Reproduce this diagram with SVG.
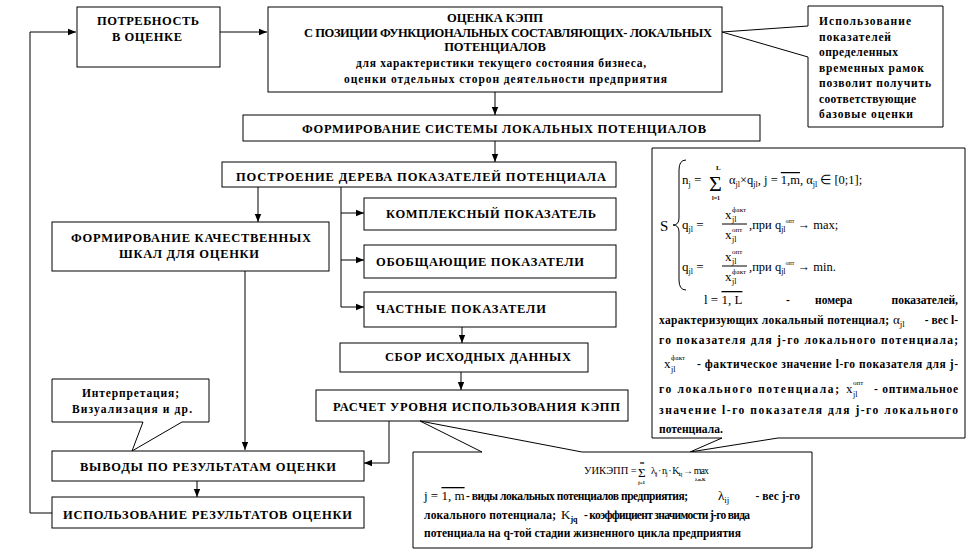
<svg xmlns="http://www.w3.org/2000/svg" width="968" height="552" viewBox="0 0 968 552" font-family="Liberation Serif, Times New Roman, serif">
<defs>
<style>
.box{fill:#fff;stroke:#000;stroke-width:1}
.ln{fill:none;stroke:#000;stroke-width:1}
.t{font-weight:bold;font-size:12.5px;fill:#000}
.s{font-weight:bold;font-size:11.5px;fill:#000}
.m{font-weight:normal;fill:#000}
.ov{text-decoration:overline}
</style>
<marker id="ar" viewBox="0 0 8 8" refX="8" refY="4" markerWidth="8" markerHeight="8" markerUnits="userSpaceOnUse" orient="auto"><path d="M0,0.8 L8,4 L0,7.2 Z" fill="#000"/></marker>
</defs>
<rect width="968" height="552" fill="#fff"/>

<g id="connectors">
<path class="ln" d="M220,32 H267" marker-end="url(#ar)"/>
<path class="ln" d="M52,513 H30 V32 H76" marker-end="url(#ar)"/>
<path class="ln" d="M495,92 V115" marker-end="url(#ar)"/>
<path class="ln" d="M495,141 V162" marker-end="url(#ar)"/>
<path class="ln" d="M258,187 V222" marker-end="url(#ar)"/>
<path class="ln" d="M341,187 V307"/>
<path class="ln" d="M341,213 H364" marker-end="url(#ar)"/>
<path class="ln" d="M341,260 H364" marker-end="url(#ar)"/>
<path class="ln" d="M341,307 H364" marker-end="url(#ar)"/>
<path class="ln" d="M462,327 V343" marker-end="url(#ar)"/>
<path class="ln" d="M461,372 V390" marker-end="url(#ar)"/>
<path class="ln" d="M389,421 V463 H364" marker-end="url(#ar)"/>
<path class="ln" d="M245,271 V450" marker-end="url(#ar)"/>
<path class="ln" d="M197,481 V497" marker-end="url(#ar)"/>
</g>

<g id="n-need">
<rect class="box" x="77" y="7" width="143" height="60"/>
<text class="t" x="97" y="25" textLength="102">ПОТРЕБНОСТЬ</text>
<text class="t" x="112" y="41" textLength="70">В ОЦЕНКЕ</text>
</g>

<g id="n-assess">
<rect class="box" x="268" y="7" width="454" height="85"/>
<text class="t" x="495" y="22" text-anchor="middle">ОЦЕНКА КЭПП</text>
<text class="t" x="304" y="37" textLength="408">С ПОЗИЦИИ ФУНКЦИОНАЛЬНЫХ СОСТАВЛЯЮЩИХ- ЛОКАЛЬНЫХ</text>
<text class="t" x="495" y="51" text-anchor="middle">ПОТЕНЦИАЛОВ</text>
<text class="s" x="356" y="67" textLength="290">для  характеристики текущего состояния бизнеса,</text>
<text class="s" x="344" y="83" textLength="323">оценки отдельных сторон деятельности предприятия</text>
</g>

<g id="n-note">
<path class="box" d="M722,32 L808,26 V6 H943 V127 H808 V57 Z"/>
<text class="s" x="819" y="25" textLength="92">Использование</text>
<text class="s" x="819" y="40.5" textLength="72">показателей</text>
<text class="s" x="819" y="56" textLength="79">определенных</text>
<text class="s" x="819" y="71.5" textLength="105">временных рамок</text>
<text class="s" x="819" y="87" textLength="112">позволит получить</text>
<text class="s" x="819" y="102.5" textLength="97">соответствующие</text>
<text class="s" x="819" y="118" textLength="94">базовые оценки</text>
</g>

<g id="n-system">
<rect class="box" x="243" y="115" width="517" height="26"/>
<text class="t" x="302" y="133" textLength="404">ФОРМИРОВАНИЕ СИСТЕМЫ  ЛОКАЛЬНЫХ ПОТЕНЦИАЛОВ</text>
</g>

<g id="n-tree">
<rect class="box" x="222" y="162" width="394" height="25"/>
<text class="t" x="236" y="181" textLength="370">ПОСТРОЕНИЕ  ДЕРЕВА  ПОКАЗАТЕЛЕЙ  ПОТЕНЦИАЛА</text>
</g>

<g id="n-scales">
<rect class="box" x="52" y="222" width="277" height="49"/>
<text class="t" x="71" y="242" textLength="240">ФОРМИРОВАНИЕ КАЧЕСТВЕННЫХ</text>
<text class="t" x="119" y="258" textLength="140">ШКАЛ ДЛЯ ОЦЕНКИ</text>
</g>

<g id="n-complex">
<rect class="box" x="364" y="198" width="252" height="32"/>
<text class="t" x="386" y="218" textLength="210">КОМПЛЕКСНЫЙ ПОКАЗАТЕЛЬ</text>
</g>

<g id="n-general">
<rect class="box" x="364" y="245" width="252" height="33"/>
<text class="t" x="376" y="266" textLength="208">ОБОБЩАЮЩИЕ ПОКАЗАТЕЛИ</text>
</g>

<g id="n-partial">
<rect class="box" x="364" y="292" width="252" height="35"/>
<text class="t" x="376" y="313" textLength="170">ЧАСТНЫЕ  ПОКАЗАТЕЛИ</text>
</g>

<g id="n-collect">
<rect class="box" x="340" y="343" width="248" height="29"/>
<text class="t" x="385" y="361" textLength="186">СБОР ИСХОДНЫХ ДАННЫХ</text>
</g>

<g id="n-calc">
<rect class="box" x="316" y="390" width="312" height="31"/>
<text class="t" x="333" y="411" textLength="287">РАСЧЕТ УРОВНЯ ИСПОЛЬЗОВАНИЯ КЭПП</text>
</g>

<g id="n-interp">
<path class="box" d="M52,379 H209 V422 H182 L132,451 L143,422 H52 Z"/>
<text class="s" x="82" y="397" textLength="97">Интерпретация;</text>
<text class="s" x="72" y="413" textLength="120">Визуализация и др.</text>
</g>

<g id="n-conclusions">
<rect class="box" x="52" y="451" width="312" height="30"/>
<text class="t" x="80" y="471" textLength="256">ВЫВОДЫ ПО РЕЗУЛЬТАТАМ ОЦЕНКИ</text>
</g>

<g id="n-use">
<rect class="box" x="52" y="497" width="312" height="31"/>
<text class="t" x="63" y="519" textLength="289">ИСПОЛЬЗОВАНИЕ РЕЗУЛЬТАТОВ ОЦЕНКИ</text>
</g>

<g id="n-formula-s">
<path class="box" d="M652,148 H965 V438 H778 L690,452 L722,438 H652 Z"/>
<text class="m" x="660" y="231" style="font-size:15px">S</text>
<path class="ln" d="M686,160 Q679,160 679,170 V218 Q679,225 673,225 Q679,225 679,232 V280 Q679,290 686,290"/>
<text class="m" x="682" y="184" style="font-size:13px">n<tspan dy="3" style="font-size:8px">j</tspan><tspan dy="-3"> =</tspan></text>
<text class="m" x="709" y="191" style="font-size:22px">Σ</text>
<text class="m" x="716" y="170" style="font-size:7px;font-weight:bold">L</text>
<text class="m" x="712" y="200" style="font-size:6px;font-weight:bold">l=1</text>
<text class="m" x="729" y="184" style="font-size:12.5px">α<tspan dy="3" style="font-size:8px">jl</tspan><tspan dy="-3">×q</tspan><tspan dy="3" style="font-size:8px">jl</tspan><tspan dy="-3">, j = </tspan><tspan class="ov">1,m</tspan><tspan>, α</tspan><tspan dy="3" style="font-size:8px">jl</tspan><tspan dy="-3"> ∈ [0;1];</tspan></text>

<text class="m" x="682" y="229" style="font-size:13px">q<tspan dy="3" style="font-size:8px">jl</tspan><tspan dy="-3"> =</tspan></text>
<text class="m" x="725" y="219" style="font-size:13px">x</text><text class="m" x="732" y="222" style="font-size:8px">jl</text><text class="m" x="732" y="212" style="font-size:7px">факт</text>
<path class="ln" d="M722,224 H747"/>
<text class="m" x="725" y="239" style="font-size:13px">x</text><text class="m" x="732" y="242" style="font-size:8px">jl</text><text class="m" x="732" y="232" style="font-size:7px">опт</text>
<text class="m" x="749" y="229" style="font-size:12.5px">,при q<tspan dy="3" style="font-size:8px">jl</tspan><tspan dy="-9" style="font-size:6px">опт</tspan><tspan dy="6"> → max;</tspan></text>

<text class="m" x="682" y="271" style="font-size:13px">q<tspan dy="3" style="font-size:8px">jl</tspan><tspan dy="-3"> =</tspan></text>
<text class="m" x="725" y="261" style="font-size:13px">x</text><text class="m" x="732" y="264" style="font-size:8px">jl</text><text class="m" x="732" y="254" style="font-size:7px">опт</text>
<path class="ln" d="M722,266 H747"/>
<text class="m" x="725" y="281" style="font-size:13px">x</text><text class="m" x="732" y="284" style="font-size:8px">jl</text><text class="m" x="732" y="274" style="font-size:7px">факт</text>
<text class="m" x="749" y="271" style="font-size:12.5px">,при q<tspan dy="3" style="font-size:8px">jl</tspan><tspan dy="-9" style="font-size:6px">опт</tspan><tspan dy="6"> → min.</tspan></text>

<text class="m" x="704" y="304" style="font-size:13px">l = <tspan class="ov">1, L</tspan></text>
<text class="s" x="786" y="304">-</text>
<text class="s" x="815" y="304">номера</text>
<text class="s" x="958" y="304" text-anchor="end">показателей,</text>

<text class="s" x="659" y="324" textLength="230">характеризующих локальный потенциал;</text>
<text class="m" x="893" y="324" style="font-size:13px">α<tspan dy="3" style="font-size:9px">jl</tspan></text>
<text class="s" x="958" y="324" text-anchor="end">- вес l-</text>

<text class="s" x="659" y="344" textLength="299">го  показателя  для  j-го  локального  потенциала;</text>

<text class="m" x="664" y="368" style="font-size:13px">x</text><text class="m" x="671" y="372" style="font-size:8px">jl</text><text class="m" x="671" y="360" style="font-size:7px">факт</text>
<text class="s" x="697" y="368" textLength="261">- фактическое значение l-го показателя для j-</text>

<text class="s" x="659" y="393" textLength="180">го  локального  потенциала;</text>
<text class="m" x="846" y="393" style="font-size:13px">x</text><text class="m" x="853" y="397" style="font-size:8px">jl</text><text class="m" x="853" y="385" style="font-size:7px">опт</text>
<text class="s" x="958" y="393" text-anchor="end" textLength="84">- оптимальное</text>

<text class="s" x="659" y="414" textLength="299">значение l-го показателя для j-го локального</text>
<text class="s" x="659" y="433">потенциала.</text>
</g>

<g id="n-formula-u">
<path class="box" d="M413,452 H482 L420,421 L582,452 H812 V548 H413 Z"/>
<text class="m" x="584" y="474" style="font-size:10.5px">УИКЭПП =</text>
<text class="m" x="638" y="477" style="font-size:13px">Σ</text>
<text class="m" x="640" y="464" style="font-size:5px;font-weight:bold">m</text>
<text class="m" x="638" y="484" style="font-size:5px;font-weight:bold">j=1</text>
<text class="m" x="651" y="474" style="font-size:10px" textLength="58">λ<tspan dy="2" style="font-size:6px">ij</tspan><tspan dy="-2"> · n</tspan><tspan dy="2" style="font-size:6px">j</tspan><tspan dy="-2"> · K</tspan><tspan dy="2" style="font-size:6px">iq</tspan><tspan dy="-2"> → max</tspan></text>
<text class="m" x="695" y="481" style="font-size:4.5px;font-weight:bold">λ,n,K</text>

<text class="m" x="424" y="500" style="font-size:13px">j = <tspan class="ov">1, m</tspan></text>
<text class="s" x="466" y="500" textLength="222">- виды локальных потенциалов предприятия;</text>
<text class="m" x="718" y="500" style="font-size:13px">λ<tspan dy="3" style="font-size:9px">ij</tspan></text>
<text class="s" x="800" y="500" text-anchor="end">- вес j-го</text>

<text class="s" x="424" y="519" textLength="132">локального потенциала;</text>
<text class="m" x="561" y="519" style="font-size:13px">K<tspan dy="3" style="font-size:8px;font-weight:bold">jq</tspan></text>
<text class="s" x="584" y="519" textLength="166">- коэффициент значимости j-го вида</text>
<text class="s" x="424" y="537" textLength="317">потенциала на q-той стадии жизненного цикла предприятия</text>
</g>
</svg>
